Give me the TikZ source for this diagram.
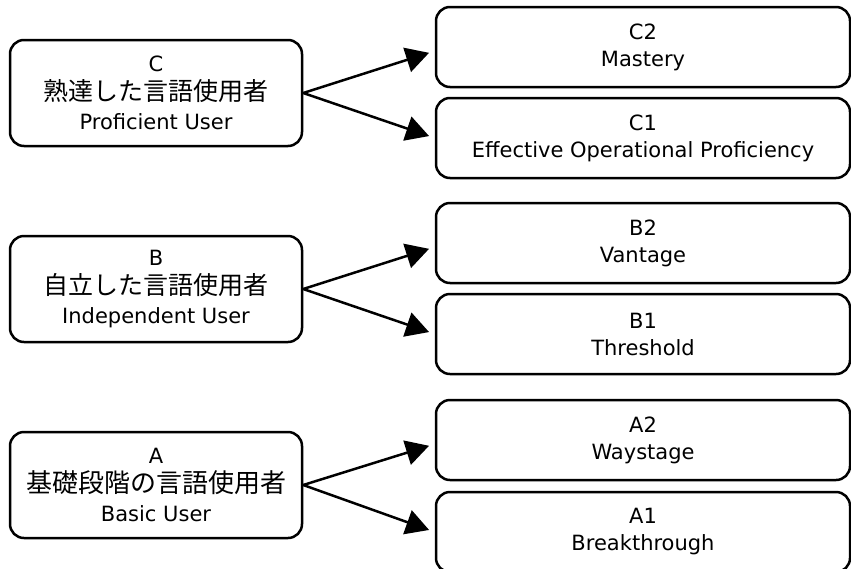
\documentclass[tikz,border=0pt]{standalone}
\usepackage{fontspec}
\setmainfont{DejaVu Sans}
\newfontfamily\jpfont{Noto Sans CJK JP}
\usetikzlibrary{arrows.meta}
\begin{document}
\begin{tikzpicture}
[x=1pt,y=-1pt,line width=2.5pt,
 level/.style={draw,rounded corners=14pt,minimum width=292pt,minimum height=106pt,align=center,inner sep=0pt,font=\fontsize{21}{29}\selectfont},
 sublevel/.style={draw,rounded corners=14pt,minimum width=414pt,minimum height=80pt,align=center,inner sep=0pt,font=\fontsize{21}{27}\selectfont},
 arr/.style={-{Triangle[length=23pt,width=25pt]},shorten >=6pt}]
\useasboundingbox (0,0) rectangle (851,568);
\node[sublevel] (c2) at (643,47) {C2\\Mastery};
\node[sublevel] (c1) at (643,138) {C1\\Effective Operational Proficiency};
\node[sublevel] (b2) at (643,243) {B2\\Vantage};
\node[sublevel] (b1) at (643,334) {B1\\Threshold};
\node[sublevel] (a2) at (643,440) {A2\\Waystage};
\node[sublevel] (a1) at (643,532) {A1\\Breakthrough};
\node[level] (c) at (156,93) {C\\{\jpfont\fontsize{25}{29}\selectfont 熟達した言語使用者}\\Proficient User};
\node[level] (b) at (156,289) {B\\{\jpfont\fontsize{25}{29}\selectfont 自立した言語使用者}\\Independent User};
\node[level] (a) at (156,485) {A\\{\jpfont\fontsize{26}{29}\selectfont 基礎段階の言語使用者}\\Basic User};
\draw[arr] (c.east) -- ([yshift=-4pt]c2.west);
\draw[arr] (c.east) -- (c1.west);
\draw[arr] (b.east) -- ([yshift=-4pt]b2.west);
\draw[arr] (b.east) -- (b1.west);
\draw[arr] (a.east) -- ([yshift=-4pt]a2.west);
\draw[arr] (a.east) -- (a1.west);
\end{tikzpicture}
\end{document}
